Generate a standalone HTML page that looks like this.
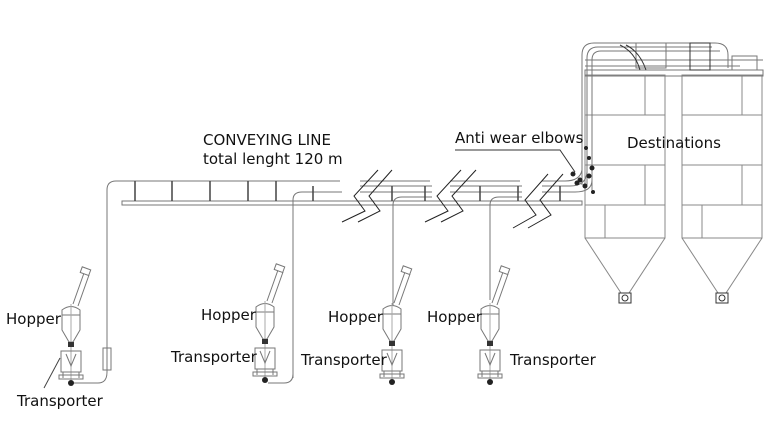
<!DOCTYPE html>
<html><head><meta charset="utf-8"><style>
html,body{margin:0;padding:0;background:#fff;}
svg{display:block;}
text{font-family:"DejaVu Sans","Liberation Sans",sans-serif;fill:#111;}
</style></head><body>
<svg width="764" height="425" viewBox="0 0 764 425" xmlns="http://www.w3.org/2000/svg">
<defs>
<g id="unit" fill="none" stroke="#777" stroke-width="1">
  <path d="M2,-2 L13,-33 M7,0 L18,-31" />
  <rect x="10" y="-38" width="9" height="6" transform="rotate(20 14 -35)" fill="#fff"/>
  <path d="M-9,4 Q0,-3 9,4 L9,24 L2,36 L-2,36 L-9,24 Z" fill="#fff"/>
  <line x1="-9" y1="9" x2="9" y2="9"/>
  <line x1="0" y1="-2" x2="0" y2="74" stroke="#aaa"/>
  <rect x="-3" y="36" width="6" height="5" fill="#333" stroke="none"/>
  <path d="M-10,45 L10,45 L10,66 L-10,66 Z M-8,66 L-8,72 M8,66 L8,72 M-5,48 L0,60 L5,48"/>
  <rect x="-12" y="69" width="24" height="4"/>
  <circle cx="0" cy="77" r="3" fill="#222" stroke="none"/>
</g>
<g id="silo" fill="none" stroke="#888" stroke-width="1">
  <rect x="0" y="0" width="80" height="163"/>
  <line x1="0" y1="40" x2="80" y2="40"/><line x1="60" y1="0" x2="60" y2="40"/>
  <line x1="0" y1="90" x2="80" y2="90"/><line x1="60" y1="90" x2="60" y2="130"/>
  <line x1="0" y1="130" x2="80" y2="130"/><line x1="20" y1="130" x2="20" y2="163"/>
  <path d="M0,163 L36,218 L44,218 L80,163"/>
  <rect x="34" y="218" width="12" height="10" fill="#fff" stroke="#333"/>
  <circle cx="40" cy="223" r="3" stroke="#333"/>
</g>
</defs>

<use href="#silo" x="585" y="75"/>
<use href="#silo" x="682" y="75"/>
<g fill="none" stroke="#777" stroke-width="1">
  <rect x="585" y="70" width="178" height="6"/>
  <path d="M582,185 L582,55 Q582,43 594,43 L715,43 Q728,43 728,55 L728,68"/>
  <path d="M587,185 L587,58 Q587,47 598,47 L712,47"/>
  <path d="M592,190 L592,60 Q592,51 601,51 L720,51"/>
  <line x1="585" y1="60" x2="763" y2="60"/>
  <line x1="585" y1="66" x2="740" y2="66"/>
  <rect x="636" y="43" width="30" height="25"/>
  <rect x="690" y="43" width="20" height="27" stroke="#333"/>
  <rect x="732" y="56" width="25" height="14"/>
  <path d="M620,45 Q635,52 640,70 M626,45 Q640,52 646,70" stroke="#333"/>
</g>

<g fill="none" stroke="#777" stroke-width="1">
  <rect x="122" y="201" width="460" height="4"/>
  <path d="M107,355 L107,190 Q107,181 116,181 L340,181"/>
  <path d="M293,378 L293,200 Q293,192 302,192 L342,192"/>
  <path d="M360,181 L430,181 M360,186 L432,186 M360,192 L432,192"/>
  <path d="M450,181 L520,181 M450,186 L522,186 M450,192 L522,192"/>
  <path d="M542,181 L565,181 Q580,181 582,170 M542,186 L570,186 Q586,186 587,172 M542,192 L575,192 Q592,192 592,180"/>
  <path d="M393,335 L393,205 Q393,197 402,197 L432,197"/>
  <path d="M490,300 L490,205 Q490,197 499,197 L522,197"/>
  <path d="M72,383 L98,383 Q107,383 107,372 L107,355"/>
  <path d="M268,383 L284,383 Q293,383 293,374"/>
  <rect x="103" y="348" width="8" height="22"/>
</g>
<g stroke="#444" stroke-width="1.5">
  <path d="M135,181v20 M172,181v20 M210,181v20 M248,181v20 M276,181v20 M313,186v15 M392,186v15 M425,186v15 M480,186v15 M518,186v15 M560,186v15"/>
</g>
<g fill="none" stroke="#222" stroke-width="1">
  <path d="M342,222 L365,211 L354,196 L378,170 M358,222 L380,211 L369,196 L392,170"/>
  <path d="M425,222 L448,211 L437,196 L461,170 M441,222 L463,211 L452,196 L476,170"/>
  <path d="M513,228 L536,215 L525,200 L548,174 M528,228 L551,215 L540,200 L563,174"/>
</g>
<g fill="#222">
  <circle cx="573" cy="174" r="2.5"/><circle cx="580" cy="180" r="2.5"/><circle cx="585" cy="186" r="2.5"/>
  <circle cx="577" cy="183" r="2.5"/><circle cx="589" cy="176" r="2.5"/><circle cx="592" cy="168" r="2.5"/>
  <circle cx="586" cy="148" r="2"/><circle cx="589" cy="158" r="2"/><circle cx="593" cy="192" r="2"/>
</g>

<use href="#unit" x="71" y="306"/>
<use href="#unit" x="265" y="303"/>
<use href="#unit" x="392" y="305"/>
<use href="#unit" x="490" y="305"/>
<line x1="60" y1="358" x2="44" y2="388" stroke="#444"/>

<g font-size="15">
<text x="203" y="145">CONVEYING LINE</text>
<text x="203" y="164">total lenght 120 m</text>
<text x="455" y="143">Anti wear elbows</text>
<text x="627" y="148">Destinations</text>
<text x="6" y="324">Hopper</text>
<text x="17" y="406">Transporter</text>
<text x="201" y="320">Hopper</text>
<text x="171" y="362">Transporter</text>
<text x="328" y="322">Hopper</text>
<text x="301" y="365">Transporter</text>
<text x="427" y="322">Hopper</text>
<text x="510" y="365">Transporter</text>
</g>
<path d="M455,150 L560,150 L575,172" fill="none" stroke="#333"/>
</svg>
</body></html>
